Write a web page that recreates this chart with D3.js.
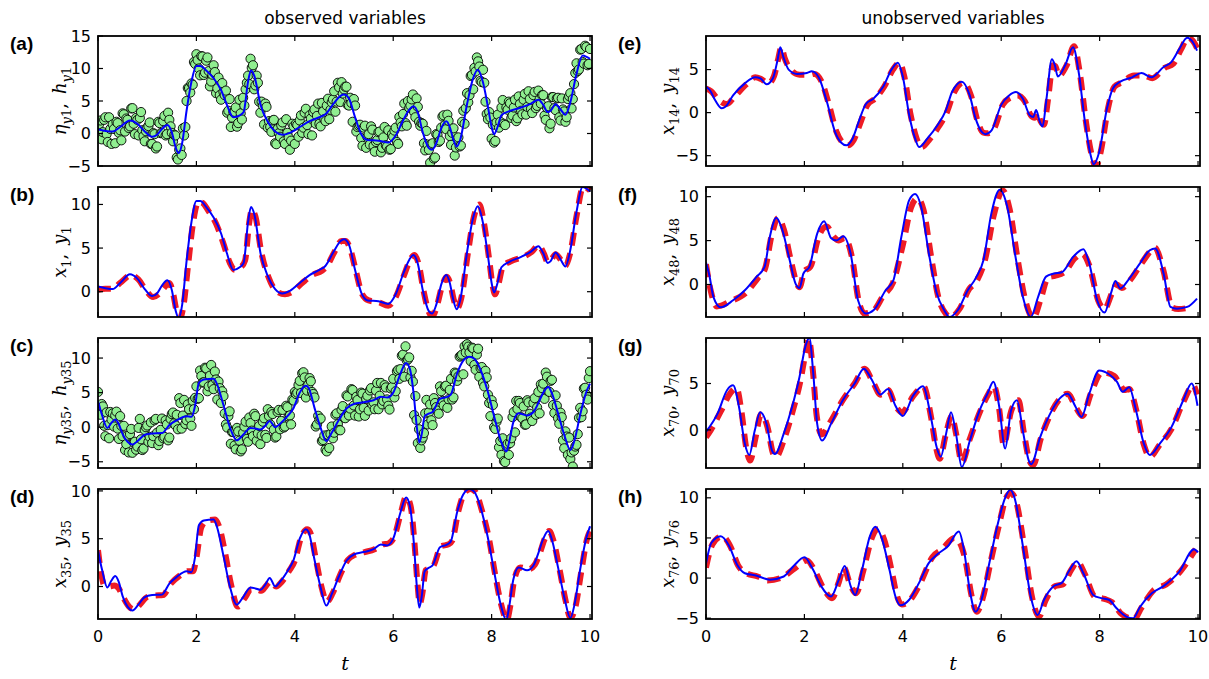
<!DOCTYPE html>
<html>
<head>
<meta charset="utf-8">
<script src="https://cdn.jsdelivr.net/npm/d3@7/dist/d3.min.js"></script>
<style>
  body { margin: 0; background: #fff; }
  svg text { font-family: "DejaVu Sans", sans-serif; fill: #000; }
</style>
</head>
<body>
<svg id="chart" width="1209" height="679"></svg>
<script>
// ---- data: [t, value] key points ----
// y1 (blue, panels a and b)
const y1 = [[0,0.6],[0.15,0.4],[0.3,0.3],[0.45,1.0],[0.65,2.0],[0.8,1.5],[0.95,0.3],[1.1,-0.5],[1.2,-0.2],[1.3,0.7],[1.41,1.3],[1.5,0.2],[1.58,-2.2],[1.64,-3.0],[1.71,-1.5],[1.8,3.5],[1.9,8.0],[2.0,10.4],[2.08,10.4],[2.2,9.7],[2.35,8.5],[2.5,6.7],[2.62,4.4],[2.75,2.5],[2.88,2.8],[2.96,3.3],[3.05,8.0],[3.11,9.7],[3.18,8.8],[3.3,4.5],[3.45,1.8],[3.6,0.3],[3.75,-0.2],[3.9,0.1],[4.1,1.0],[4.3,1.9],[4.5,2.5],[4.62,2.95],[4.8,4.7],[4.93,5.8],[5.0,6.0],[5.1,5.4],[5.22,2.6],[5.35,-0.1],[5.48,-1.0],[5.7,-1.1],[5.9,-1.4],[6.05,-0.3],[6.2,2.0],[6.33,3.7],[6.41,4.2],[6.5,3.2],[6.6,0.2],[6.72,-2.2],[6.79,-2.5],[6.88,-1.4],[6.98,0.9],[7.08,1.9],[7.15,1.0],[7.22,-0.9],[7.29,-2.0],[7.36,-1.0],[7.5,4.5],[7.62,8.4],[7.72,9.8],[7.82,8.0],[7.93,3.9],[8.0,1.0],[8.05,-0.1],[8.12,1.0],[8.2,2.8],[8.35,3.4],[8.6,4.0],[8.8,4.6],[8.95,5.2],[9.05,4.4],[9.14,3.3],[9.2,3.5],[9.3,4.5],[9.4,3.7],[9.5,2.9],[9.6,4.8],[9.72,9.0],[9.85,12.0],[9.93,11.8],[10.0,11.5]];
// x1 (red dashed, panel b)
const x1 = [[0,0.2],[0.15,0.35],[0.3,0.35],[0.45,1.0],[0.67,1.9],[0.82,1.4],[0.97,0.2],[1.12,-0.6],[1.25,-0.2],[1.35,0.5],[1.45,1.0],[1.53,-0.3],[1.6,-2.3],[1.66,-3.1],[1.74,-1.5],[1.83,3.0],[1.93,7.8],[2.04,10.3],[2.12,10.2],[2.25,9.2],[2.4,7.8],[2.55,5.5],[2.68,3.3],[2.78,2.5],[2.9,2.8],[2.99,3.6],[3.07,7.8],[3.13,9.4],[3.2,8.6],[3.32,4.5],[3.47,1.6],[3.62,0.1],[3.8,-0.3],[3.95,0.0],[4.15,1.0],[4.35,1.9],[4.55,2.4],[4.65,2.9],[4.8,4.5],[4.95,5.8],[5.03,5.8],[5.12,5.0],[5.24,2.4],[5.37,-0.3],[5.5,-1.0],[5.7,-1.2],[5.9,-1.6],[6.06,-0.5],[6.22,1.9],[6.35,3.7],[6.43,4.2],[6.52,3.1],[6.62,0.0],[6.73,-2.4],[6.8,-2.8],[6.89,-1.6],[6.99,0.6],[7.09,1.7],[7.16,0.9],[7.23,-0.9],[7.3,-1.9],[7.38,-0.8],[7.52,4.5],[7.64,8.6],[7.75,10.0],[7.84,8.0],[7.95,3.7],[8.02,0.7],[8.07,-0.3],[8.14,0.9],[8.23,2.9],[8.4,3.5],[8.65,4.0],[8.82,4.6],[8.95,5.3],[9.06,4.4],[9.14,3.4],[9.2,3.6],[9.3,4.3],[9.4,3.7],[9.5,3.0],[9.6,4.5],[9.73,8.8],[9.86,12.0],[9.93,11.9],[10.0,11.6]];
// y35 (blue, panels c and d)
const y35 = [[0,3.8],[0.08,1.8],[0.19,-0.1],[0.27,0.6],[0.35,1.1],[0.42,0.5],[0.5,-1.0],[0.6,-2.1],[0.7,-2.5],[0.82,-1.9],[0.95,-1.1],[1.1,-0.9],[1.3,-0.85],[1.45,0.3],[1.6,1.0],[1.8,1.6],[1.9,1.5],[1.97,3.0],[2.05,6.4],[2.15,6.9],[2.35,7.0],[2.42,6.2],[2.55,3.2],[2.68,0.0],[2.82,-1.9],[2.95,-1.1],[3.1,-0.1],[3.2,-0.2],[3.3,-0.35],[3.4,0.2],[3.49,0.9],[3.6,0.0],[3.7,0.5],[3.85,1.6],[3.97,2.7],[4.1,5.0],[4.22,6.0],[4.28,5.7],[4.4,2.8],[4.52,0.0],[4.64,-2.0],[4.75,-0.8],[4.9,1.1],[5.05,2.7],[5.2,3.35],[5.4,3.6],[5.6,3.9],[5.75,4.4],[5.88,4.3],[6.0,5.0],[6.15,7.8],[6.26,9.3],[6.34,8.4],[6.42,4.5],[6.48,0.0],[6.53,-2.2],[6.58,-1.0],[6.64,1.6],[6.72,1.95],[6.8,2.2],[6.95,4.1],[7.1,4.4],[7.17,4.7],[7.3,7.8],[7.42,9.6],[7.55,10.2],[7.65,9.9],[7.78,8.2],[7.92,5.2],[8.05,1.6],[8.18,-1.8],[8.3,-3.5],[8.36,-2.0],[8.44,0.7],[8.55,2.0],[8.72,1.7],[8.85,2.2],[8.95,3.5],[9.05,5.0],[9.15,5.8],[9.22,5.0],[9.35,2.0],[9.48,-1.2],[9.6,-3.3],[9.68,-2.0],[9.8,1.8],[9.92,5.0],[10.0,6.3]];
// x35 (red dashed, panel d)
const x35 = [[0,3.8],[0.06,1.5],[0.12,0.2],[0.22,0.0],[0.33,0.1],[0.42,-0.2],[0.52,-1.2],[0.63,-2.1],[0.74,-2.4],[0.85,-1.9],[1.0,-1.1],[1.15,-0.95],[1.32,-0.9],[1.48,0.3],[1.65,1.1],[1.83,1.6],[1.93,1.6],[2.0,3.0],[2.1,6.2],[2.22,6.9],[2.38,7.0],[2.46,6.3],[2.58,3.6],[2.7,0.3],[2.84,-2.1],[2.97,-1.3],[3.12,-0.3],[3.22,-0.3],[3.32,-0.45],[3.42,0.1],[3.5,0.5],[3.62,0.0],[3.72,0.4],[3.88,1.6],[4.0,2.7],[4.12,5.0],[4.25,6.0],[4.31,5.7],[4.43,2.8],[4.55,-0.2],[4.65,-1.6],[4.77,-0.7],[4.92,1.2],[5.08,2.8],[5.22,3.3],[5.42,3.6],[5.62,3.9],[5.78,4.4],[5.9,4.5],[6.02,5.2],[6.16,7.8],[6.26,9.4],[6.35,8.5],[6.43,4.7],[6.49,0.5],[6.54,-1.8],[6.59,-0.8],[6.66,1.7],[6.74,1.9],[6.82,2.2],[6.97,4.2],[7.12,4.4],[7.2,4.8],[7.32,7.8],[7.45,9.8],[7.57,10.2],[7.67,9.9],[7.8,8.0],[7.95,4.9],[8.07,1.3],[8.2,-2.0],[8.31,-3.5],[8.38,-2.0],[8.46,0.7],[8.58,2.0],[8.75,1.8],[8.88,2.3],[8.98,3.5],[9.08,5.0],[9.17,5.8],[9.25,4.9],[9.38,1.8],[9.5,-1.4],[9.6,-3.3],[9.7,-2.2],[9.82,1.5],[9.94,5.0],[10.0,5.8]];
// x14, y14 (panel e)
const y14 = [[0,3.0],[0.08,2.6],[0.19,1.4],[0.32,0.5],[0.4,0.7],[0.55,2.0],[0.79,3.4],[1.0,4.1],[1.1,4.0],[1.23,3.3],[1.36,4.0],[1.45,6.0],[1.51,7.6],[1.57,6.5],[1.68,5.0],[1.85,4.5],[2.05,4.6],[2.15,4.8],[2.3,4.0],[2.46,1.2],[2.62,-2.2],[2.75,-3.5],[2.85,-3.8],[2.98,-3.0],[3.1,-1.1],[3.25,1.0],[3.4,1.6],[3.6,3.0],[3.77,5.0],[3.9,5.8],[4.0,4.2],[4.13,-0.3],[4.25,-3.0],[4.33,-4.0],[4.5,-3.0],[4.7,-1.5],[4.87,0.2],[5.0,2.4],[5.2,3.6],[5.36,2.0],[5.48,-0.7],[5.6,-2.2],[5.68,-2.5],[5.8,-2.1],[6.0,0.9],[6.16,2.0],[6.3,2.4],[6.44,1.6],[6.58,-0.3],[6.65,-0.5],[6.71,0.3],[6.78,-1.0],[6.84,-1.6],[6.92,1.6],[7.03,6.2],[7.09,5.5],[7.15,4.2],[7.3,5.5],[7.46,7.6],[7.58,4.5],[7.7,-1.0],[7.82,-5.0],[7.88,-6.0],[7.99,-4.6],[8.15,0.5],[8.27,2.8],[8.42,3.6],[8.66,4.1],[8.85,4.6],[9.05,4.1],[9.3,5.3],[9.46,5.9],[9.62,7.4],[9.78,8.7],[9.88,8.3],[9.98,7.2]];
const x14 = [[0,2.8],[0.1,2.5],[0.25,1.5],[0.42,1.0],[0.6,2.0],[0.82,3.3],[1.0,4.1],[1.12,3.9],[1.27,3.4],[1.38,4.2],[1.47,6.3],[1.53,7.6],[1.6,6.3],[1.72,5.0],[1.9,4.4],[2.1,4.4],[2.2,4.5],[2.35,3.6],[2.5,0.9],[2.65,-2.2],[2.78,-3.5],[2.88,-3.8],[3.0,-3.2],[3.13,-1.3],[3.28,0.9],[3.43,1.6],[3.62,3.0],[3.8,5.0],[3.93,5.8],[4.03,4.2],[4.16,-0.3],[4.28,-3.0],[4.38,-4.0],[4.53,-3.2],[4.72,-1.7],[4.9,0.1],[5.03,2.2],[5.23,3.5],[5.39,1.9],[5.51,-0.8],[5.63,-2.3],[5.72,-2.4],[5.85,-1.9],[6.03,0.9],[6.2,1.8],[6.33,2.0],[6.48,1.3],[6.6,-0.3],[6.68,-0.6],[6.74,0.0],[6.8,-1.0],[6.87,-1.4],[6.95,1.5],[7.05,5.5],[7.1,5.4],[7.17,4.3],[7.33,5.5],[7.48,7.7],[7.6,4.5],[7.72,-1.0],[7.85,-5.2],[7.92,-6.3],[8.02,-4.6],[8.17,0.5],[8.3,3.0],[8.45,3.5],[8.7,4.3],[8.9,4.3],[9.07,4.0],[9.32,5.2],[9.5,5.7],[9.65,7.3],[9.8,8.7],[9.9,8.3],[9.98,7.5]];
// x48, y48 (panel f)
const y48 = [[0,2.5],[0.07,1.0],[0.15,-1.4],[0.3,-2.6],[0.55,-1.8],[0.79,-0.65],[1.03,0.9],[1.19,2.0],[1.3,5.5],[1.43,7.6],[1.54,6.4],[1.7,2.8],[1.82,0.1],[1.9,-0.4],[1.98,1.25],[2.1,2.0],[2.26,5.8],[2.4,7.2],[2.54,5.3],[2.65,5.0],[2.79,5.5],[2.94,3.5],[3.09,-1.8],[3.25,-3.3],[3.41,-2.9],[3.65,-0.65],[3.81,0.5],[3.97,5.4],[4.13,9.6],[4.25,10.3],[4.37,8.9],[4.53,3.5],[4.69,-1.0],[4.84,-2.9],[4.95,-3.7],[5.12,-2.9],[5.32,-0.65],[5.48,0.7],[5.64,2.8],[5.8,8.1],[5.97,10.8],[6.12,8.9],[6.28,3.5],[6.44,-1.4],[6.6,-3.7],[6.75,-1.4],[6.91,0.9],[7.07,1.25],[7.23,1.4],[7.47,3.2],[7.67,4.0],[7.79,2.4],[7.95,-1.8],[8.1,-3.2],[8.23,-1.0],[8.32,0.4],[8.42,-0.45],[8.58,0.5],[8.82,2.4],[9.02,3.9],[9.13,4.1],[9.3,1.25],[9.44,-2.55],[9.57,-2.75],[9.78,-2.55],[9.98,-1.6]];
const x48 = [[0,2.3],[0.1,-0.8],[0.22,-2.5],[0.5,-1.9],[0.8,-1.0],[1.05,0.7],[1.2,1.8],[1.33,5.5],[1.47,7.6],[1.58,6.3],[1.73,2.6],[1.84,0.2],[1.9,-0.3],[2.0,1.5],[2.12,2.0],[2.3,5.6],[2.45,6.6],[2.6,5.4],[2.7,5.0],[2.82,5.3],[2.97,3.0],[3.1,-1.8],[3.22,-3.3],[3.4,-3.0],[3.6,-1.3],[3.8,0.2],[4.0,4.5],[4.17,8.8],[4.3,9.8],[4.42,8.5],[4.58,3.0],[4.72,-1.4],[4.87,-3.3],[4.97,-3.7],[5.15,-2.8],[5.35,-0.5],[5.5,0.4],[5.67,2.8],[5.85,7.9],[6.03,10.7],[6.17,8.6],[6.33,3.0],[6.49,-1.8],[6.65,-3.8],[6.8,-1.7],[6.95,0.8],[7.1,1.0],[7.3,1.5],[7.5,3.0],[7.65,3.5],[7.8,2.0],[7.97,-1.8],[8.1,-2.8],[8.25,-1.0],[8.35,0.0],[8.45,-0.4],[8.62,0.5],[8.85,2.4],[9.05,3.9],[9.12,4.2],[9.3,1.5],[9.47,-2.6],[9.6,-2.8],[9.85,-2.6]];
// x70, y70 (panel g)
const y70 = [[0,-0.2],[0.23,1.7],[0.43,4.3],[0.55,4.8],[0.67,2.5],[0.79,-1.5],[0.88,-2.7],[0.99,-0.1],[1.1,1.9],[1.23,0.65],[1.34,-2.2],[1.4,-2.6],[1.58,-0.4],[1.74,2.3],[1.9,5.7],[2.02,9.0],[2.1,9.9],[2.18,6.1],[2.26,0.65],[2.36,-1.15],[2.54,0.65],[2.78,3.2],[3.02,5.0],[3.21,6.6],[3.37,5.4],[3.54,3.8],[3.7,4.4],[3.85,2.6],[4.0,1.5],[4.21,3.7],[4.41,4.7],[4.57,1.4],[4.69,-1.9],[4.77,-2.9],[4.88,-0.4],[4.98,1.9],[5.08,-0.4],[5.2,-4.0],[5.36,-1.2],[5.56,2.1],[5.72,3.9],[5.84,5.2],[5.96,2.5],[6.08,-2.0],[6.2,2.1],[6.32,3.2],[6.44,-0.1],[6.56,-3.3],[6.61,-3.7],[6.79,-0.8],[6.99,1.7],[7.19,3.4],[7.35,3.9],[7.51,2.5],[7.63,1.4],[7.79,3.9],[7.99,6.4],[8.19,6.0],[8.35,5.2],[8.47,4.1],[8.6,4.6],[8.74,2.1],[8.9,-1.5],[9.02,-2.7],[9.22,-1.5],[9.46,0.3],[9.7,3.2],[9.87,5.0],[9.99,2.6]];
const x70 = [[0,-0.8],[0.1,0.0],[0.3,2.0],[0.5,4.0],[0.62,4.5],[0.72,2.0],[0.82,-2.0],[0.9,-3.3],[1.0,-1.0],[1.12,1.7],[1.25,0.3],[1.36,-2.5],[1.42,-2.9],[1.6,-0.8],[1.76,2.0],[1.92,5.3],[2.03,8.5],[2.09,9.8],[2.17,6.5],[2.25,1.5],[2.35,-0.5],[2.52,0.8],[2.78,3.2],[3.02,5.0],[3.22,6.6],[3.38,5.3],[3.55,3.8],[3.7,4.3],[3.85,2.6],[3.98,1.9],[4.22,3.7],[4.42,4.7],[4.58,1.2],[4.68,-2.0],[4.75,-3.1],[4.87,-0.6],[4.99,1.5],[5.09,-0.6],[5.2,-3.5],[5.36,-1.0],[5.58,2.1],[5.73,3.8],[5.85,4.7],[5.96,2.2],[6.05,-1.6],[6.2,2.0],[6.35,3.2],[6.46,-0.3],[6.58,-3.4],[6.65,-3.8],[6.8,-1.0],[7.0,1.7],[7.2,3.4],[7.35,3.9],[7.52,2.4],[7.65,1.5],[7.82,3.9],[8.05,6.2],[8.3,5.8],[8.4,5.0],[8.5,4.3],[8.6,4.4],[8.75,2.0],[8.9,-1.6],[9.02,-2.9],[9.22,-1.6],[9.46,0.1],[9.7,3.0],[9.9,4.8],[9.98,3.8]];
// x76, y76 (panel h)
const y76 = [[0,1.8],[0.11,4.4],[0.3,5.2],[0.47,4.0],[0.63,1.7],[0.79,0.6],[1.03,0.3],[1.3,-0.2],[1.58,0.2],[1.78,1.5],[2.0,2.6],[2.18,1.0],[2.34,-1.0],[2.54,-2.3],[2.7,-0.2],[2.82,1.5],[2.94,-1.0],[3.03,-2.1],[3.17,1.0],[3.33,5.2],[3.44,6.4],[3.57,5.0],[3.73,1.0],[3.85,-2.3],[3.95,-3.4],[4.13,-2.7],[4.33,-0.6],[4.53,1.9],[4.69,2.9],[4.92,4.0],[5.14,5.8],[5.24,3.6],[5.36,-1.5],[5.48,-4.2],[5.6,-2.7],[5.76,1.9],[5.92,6.5],[6.08,10.0],[6.18,11.0],[6.28,9.8],[6.44,4.0],[6.6,-2.3],[6.74,-4.6],[6.87,-2.7],[7.07,-1.0],[7.23,-0.6],[7.39,1.0],[7.53,2.1],[7.67,0.6],[7.87,-2.1],[8.03,-2.5],[8.19,-2.7],[8.35,-3.8],[8.54,-4.8],[8.68,-5.0],[8.82,-3.6],[9.06,-1.9],[9.3,-1.0],[9.62,0.8],[9.92,3.6],[10.0,3.2]];
const x76 = [[0,1.3],[0.13,4.2],[0.33,5.2],[0.5,3.9],[0.65,1.6],[0.82,0.6],[1.05,0.2],[1.25,-0.3],[1.55,0.1],[1.8,1.2],[2.05,2.2],[2.22,0.8],[2.38,-1.2],[2.56,-2.5],[2.7,-0.5],[2.8,1.3],[2.93,-0.8],[3.05,-1.9],[3.2,1.0],[3.37,5.0],[3.5,6.1],[3.62,4.8],[3.77,1.0],[3.88,-2.2],[3.98,-3.3],[4.15,-2.7],[4.35,-0.7],[4.6,2.6],[4.8,3.6],[5.05,5.0],[5.15,4.5],[5.28,2.0],[5.39,-2.0],[5.5,-4.2],[5.62,-2.6],[5.78,1.9],[5.95,6.5],[6.1,10.0],[6.2,10.6],[6.3,9.6],[6.47,3.8],[6.63,-2.5],[6.77,-4.8],[6.9,-2.8],[7.1,-1.0],[7.25,-0.8],[7.42,1.0],[7.55,2.0],[7.7,0.5],[7.9,-2.3],[8.1,-2.6],[8.25,-3.0],[8.45,-4.5],[8.7,-5.1],[8.85,-3.7],[9.1,-1.5],[9.35,-0.8],[9.65,0.9],[9.95,3.6]];

// noisy observations (green dots): first set at t = 0, 0.05, ... ; second set shifted by half a step
const obsStep = 0.05;
const etaY1 = [-0.4,2.0,0.2,2.5,-1.3,0.7,1.4,-1.5,1.6,0.5,3.1,0.3,2.1,1.1,3.9,-0.1,2.1,2.4,0.5,-1.2,0.9,1.7,-1.6,-0.1,-2.0,1.6,0.1,2.7,-0.1,2.1,0.1,-0.2,-3.7,-2.5,-3.3,-0.3,5.0,7.0,7.7,11.0,12.2,10.0,11.9,9.0,11.2,9.6,8.0,10.5,6.2,8.6,5.2,6.4,6.6,3.5,1.0,3.3,4.0,1.6,3.1,5.5,6.8,8.9,11.5,10.5,7.4,7.8,3.2,4.3,4.6,0.9,1.0,2.0,-1.5,0.7,-0.5,1.7,-1.6,0.1,-2.5,1.5,-1.6,1.3,2.0,0.1,3.2,1.3,2.8,-0.3,3.7,2.7,1.5,4.7,2.2,4.3,2.2,4.8,6.5,4.9,7.1,7.9,6.8,7.2,4.3,4.7,5.3,0.3,1.2,-0.7,0.9,-2.2,-0.1,1.1,-1.9,-1.3,0.2,-2.9,-0.6,-1.8,0.5,-2.4,-0.5,0.9,-1.6,1.7,3.0,1.6,5.0,4.3,6.0,2.5,4.1,1.2,1.5,-2.6,-1.7,-4.5,-1.5,-3.7,-0.2,-1.1,2.6,1.3,2.9,-0.4,0.1,-3.4,-0.8,-2.0,1.8,1.5,6.2,5.9,9.0,10.1,11.7,10.3,7.9,7.8,3.0,3.3,-0.8,-1.4,1.7,0.9,4.0,1.5,4.0,4.9,2.4,4.0,1.9,5.7,3.5,5.2,2.9,6.5,3.8,5.9,3.9,6.6,4.6,5.9,2.1,4.2,1.5,5.6,3.6,5.5,2.0,3.7,1.8,5.3,6.2,5.3,9.3,9.6,12.9,11.0,13.5,10.5,13.0];
const etaY1b = [1.45,-0.9,2.1,-0.1,2.5,-1.6,0.7,1.8,0.1,-1.05,2.95,2.3,0.85,3.85,1.5,2.4,-0.3,3.3,-0.4,0.35,1.15,-1.6,0.05,-2.3,1.8,0.05,1.9,-0.3,3.2,1.1,-1.2,-0.3,-4.0,-2.3,0.8,1.0,7.0,6.3,7.5,10.7,11.3,8.95,11.85,9.35,11.7,7.25,9.05,9.45,6.95,5.9,7.75,5.9,3.2,5.3,2.45,3.35,1.05,5.2,2.15,4.3,7.8,7.6,10.1,6.8,8.9,4.9,4.9,1.4,4.1,1.9,0.25,2.1,-1.65,0.05,1.25,-1.2,2.2,-0.6,-1.1,1.1,1.5,-0.5,2.8,0.9,3.8,-0.1,2.3,3.3,1.5,4.6,1.1,3.4,1.9,5.35,3.65,5.25,3.35,7.8,4.85,6.15,7.2,4.4,5.5,1.8,4.3,1.0,1.35,-1.9,1.2,-0.55,-1.7,0.6,-2.8,-1.0,0.3,-2.2,1.0,-2.0,-2.5,-0.1,0.45,-1.3,2.55,1.1,4.6,1.2,3.95,5.25,3.3,5.4,1.8,1.6,-1.5,0.4,-2.5,-1.65,-3.85,-0.1,-1.3,0.9,2.8,0.65,1.95,-1.75,0.8,-2.15,-0.6,-1.85,3.5,3.9,4.8,8.85,6.8,9.55,11.1,8.1,9.8,4.9,2.2,2.45,1.35,-1.15,2.9,1.8,5.15,1.3,3.65,4.65,2.75,5.2,2.35,4.55,2.95,6.1,4.1,5.3,3.15,6.4,4.25,5.25,5.9,2.75,3.95,0.8,5.6,3.9,5.4,2.5,5.4,3.4,2.5,5.75,3.85,7.6,10.8,9.85,13.0,10.75,13.3,10.7];
const etaY35 = [5.1,1.8,3.0,-1.3,0.3,2.2,2.0,1.7,-0.2,1.6,-1.3,-3.3,-1.2,-1.0,-3.7,-2.1,-2.8,1.2,-3.3,-0.4,0.25,-1.4,-2.3,1.0,-0.8,-2.0,1.25,-1.4,0.4,-1.5,1.9,0.55,1.8,4.2,-0.2,3.95,1.0,2.6,0.2,2.6,5.9,4.2,7.4,6.5,8.5,5.9,9.0,5.5,6.9,6.6,3.5,4.5,0.4,1.6,-2.4,-0.7,-3.2,-0.6,-3.5,-0.8,0.8,-2.1,0.6,-1.3,1.6,-0.9,-2.45,0.8,-1.1,2.6,0.4,1.9,-1.5,2.2,-0.3,2.5,0.1,2.9,1.7,4.0,5.1,5.0,6.7,7.8,7.2,5.3,7.1,5.1,4.3,0.4,1.1,-2.0,-1.2,-3.5,-3.0,0.1,-0.8,2.0,-0.4,2.5,1.4,4.6,1.7,5.5,3.15,4.4,1.55,5.0,2.8,4.1,2.4,5.65,3.6,5.3,2.6,6.4,3.8,5.75,3.1,5.6,7.0,5.2,8.3,8.4,10.5,11.7,9.8,7.2,6.6,4.5,-2.3,-3.0,-1.5,2.0,0.4,3.3,0.3,3.5,2.4,5.9,3.8,5.9,2.8,5.4,4.0,7.9,6.7,10.2,10.5,11.7,12.0,10.8,11.5,9.0,10.5,7.3,8.7,5.9,7.2,3.5,3.9,0.0,0.8,-2.9,-4.0,-4.9,-2.7,-4.0,-1.6,2.2,3.8,3.8,1.45,3.0,0.4,3.6,1.4,3.5,1.8,5.1,6.2,6.3,7.9,5.2,6.7,3.2,4.6,1.3,2.1,-1.9,-0.6,-4.0,-4.6,-5.7,-2.8,-1.0,2.8,2.3,5.7,4.0,8.1];
const etaY35b = [1.95,3.35,0.2,2.15,-1.6,1.1,0.1,2.25,-1.7,0.2,0.2,-2.45,-3.65,-0.25,-2.2,-3.25,-0.1,-1.75,-3.1,0.0,-2.12,0.7,-1.3,1.2,-2.6,-0.38,-1.6,1.0,-1.9,1.2,2.12,0.27,-0.3,3.5,1.68,0.48,3.3,1.25,3.8,4.25,4.1,8.2,6.45,8.6,5.2,7.45,6.1,8.05,4.0,5.65,5.2,2.0,-0.05,2.3,-0.7,-2.65,-0.1,-1.95,-3.2,0.1,-1.7,1.4,-0.5,1.95,-1.95,0.18,-1.18,1.3,-1.55,1.6,2.2,-0.35,-1.35,2.5,0.9,-0.05,3.1,1.55,0.4,3.85,4.8,6.1,4.95,7.95,4.3,6.15,6.65,4.8,0.1,1.65,1.25,-1.85,-3.25,-1.1,-1.0,-1.6,1.8,0.45,-0.45,3.05,1.3,4.45,2.7,5.38,1.68,3.93,2.58,4.85,1.65,4.55,5.32,3.28,2.6,6.4,4.55,3.3,6.08,4.02,2.55,5.8,4.3,8.1,7.0,10.35,7.3,9.65,10.1,8.15,1.75,1.05,-0.3,-1.9,-0.85,3.95,2.15,1.0,4.2,2.9,1.95,5.2,3.15,6.0,4.05,7.0,4.3,7.75,7.35,10.35,7.65,10.8,11.65,9.55,11.4,8.3,11.35,8.55,6.4,8.15,4.7,1.6,3.2,-0.25,1.25,-2.0,-1.6,-5.05,-2.4,-2.3,1.45,-0.75,2.65,3.5,1.28,0.35,3.9,1.95,0.9,4.2,2.85,2.0,5.65,4.1,7.3,5.1,6.85,2.05,3.1,0.5,1.45,-3.05,-1.35,-1.5,-3.65,-3.4,-2.55,1.35,1.45,5.6,4.7,7.1];

const xTicks = [0, 2, 4, 6, 8, 10];

// ---- layout ----
const colX = [[98, 592], [706, 1200]];
const rowTop = [36, 187, 338, 489];
const panelH = 130;

const panels = [
  {tag: "(a)", col: 0, row: 0, ydom: [-5, 15],    blue: y1,  obs: [etaY1, etaY1b],   lab: [["η", "y1"], ["h", "y1"]]},
  {tag: "(b)", col: 0, row: 1, ydom: [-2.9, 12.0], blue: y1,  red: x1,    lab: [["x", "1"], ["y", "1"]]},
  {tag: "(c)", col: 0, row: 2, ydom: [-5.9, 12.9], blue: y35, obs: [etaY35, etaY35b], lab: [["η", "y35"], ["h", "y35"]]},
  {tag: "(d)", col: 0, row: 3, ydom: [-3.4, 10.2], blue: y35, red: x35,   lab: [["x", "35"], ["y", "35"]]},
  {tag: "(e)", col: 1, row: 0, ydom: [-6.2, 8.9],  blue: y14, red: x14,   lab: [["x", "14"], ["y", "14"]]},
  {tag: "(f)", col: 1, row: 1, ydom: [-3.7, 11.1], blue: y48, red: x48,   lab: [["x", "48"], ["y", "48"]]},
  {tag: "(g)", col: 1, row: 2, ydom: [-4.1, 9.9],  blue: y70, red: x70,   lab: [["x", "70"], ["y", "70"]]},
  {tag: "(h)", col: 1, row: 3, ydom: [-5.1, 11.1], blue: y76, red: x76,   lab: [["x", "76"], ["y", "76"]]}
];

const svg = d3.select("#chart");
const fmt = v => (v < 0 ? "\u2212" + Math.abs(v) : String(v));

// column titles
svg.append("text").attr("x", (colX[0][0] + colX[0][1]) / 2).attr("y", 24)
  .attr("text-anchor", "middle").style("font-size", "17px").text("observed variables");
svg.append("text").attr("x", (colX[1][0] + colX[1][1]) / 2).attr("y", 24)
  .attr("text-anchor", "middle").style("font-size", "17px").text("unobserved variables");

panels.forEach((p, i) => {
  const [x0, x1p] = colX[p.col];
  const top = rowTop[p.row];
  const bot = top + panelH;

  const x = d3.scaleLinear().domain([0, 10.04]).range([x0, x1p]);
  const y = d3.scaleLinear().domain(p.ydom).range([bot, top]);

  const clipId = "clip" + i;
  svg.append("clipPath").attr("id", clipId)
    .append("rect").attr("x", x0).attr("y", top).attr("width", x1p - x0).attr("height", panelH);

  const g = svg.append("g").attr("clip-path", `url(#${clipId})`);
  const line = d3.line().x(d => x(d[0])).y(d => y(d[1])).curve(d3.curveMonotoneX);

  // observations as green circles (two interleaved sets)
  if (p.obs) {
    const pts = [];
    p.obs.forEach((arr, s) => arr.forEach((v, k) => pts.push({t: k * obsStep + s * obsStep / 2, v})));
    pts.sort((a, b) => a.t - b.t);
    g.selectAll("circle").data(pts).enter().append("circle")
      .attr("cx", d => x(d.t))
      .attr("cy", d => y(d.v))
      .attr("r", 4.6)
      .attr("fill", "#90ee90")
      .attr("stroke", "#000")
      .attr("stroke-width", 0.9);
  }
  // true state, red dashed
  if (p.red) {
    g.append("path").datum(p.red).attr("d", line)
      .attr("fill", "none").attr("stroke", "#ee1c25")
      .attr("stroke-width", 6).attr("stroke-dasharray", "13,8");
  }
  // estimate, blue
  g.append("path").datum(p.blue).attr("d", line)
    .attr("fill", "none").attr("stroke", "#0000ff").attr("stroke-width", 2);

  // ticks (inside, all four sides)
  const yTicks = d3.range(Math.ceil(p.ydom[0] / 5) * 5, p.ydom[1] + 0.001, 5);
  const tk = svg.append("g").attr("stroke", "#000").attr("stroke-width", 1.2);
  xTicks.forEach(t => {
    tk.append("line").attr("x1", x(t)).attr("x2", x(t)).attr("y1", bot).attr("y2", bot - 5);
    tk.append("line").attr("x1", x(t)).attr("x2", x(t)).attr("y1", top).attr("y2", top + 5);
  });
  yTicks.forEach(v => {
    tk.append("line").attr("x1", x0).attr("x2", x0 + 5).attr("y1", y(v)).attr("y2", y(v));
    tk.append("line").attr("x1", x1p).attr("x2", x1p - 5).attr("y1", y(v)).attr("y2", y(v));
    svg.append("text").attr("x", x0 - 7).attr("y", y(v)).attr("dy", "0.35em")
      .attr("text-anchor", "end").style("font-size", "16px").text(fmt(v));
  });

  // frame
  svg.append("rect").attr("x", x0).attr("y", top).attr("width", x1p - x0).attr("height", panelH)
    .attr("fill", "none").attr("stroke", "#000").attr("stroke-width", 1.8);

  // bottom row: x tick labels and t
  if (p.row === 3) {
    xTicks.forEach(t => {
      svg.append("text").attr("x", x(t)).attr("y", bot + 23)
        .attr("text-anchor", "middle").style("font-size", "16px").text(t);
    });
    svg.append("text").attr("x", (x0 + x1p) / 2).attr("y", bot + 51)
      .attr("text-anchor", "middle")
      .style("font-family", "'DejaVu Serif', serif").style("font-style", "italic")
      .style("font-size", "19px").text("t");
  }

  // panel tag
  svg.append("text").attr("x", x0 - 88).attr("y", top + 14)
    .style("font-family", "'Liberation Sans', Arial, sans-serif")
    .style("font-weight", "bold").style("font-size", "19px").text(p.tag);

  // y label, math style
  const cy = (top + bot) / 2;
  const lx = x0 - 32;
  const lab = svg.append("text")
    .attr("transform", `translate(${lx},${cy}) rotate(-90)`)
    .attr("text-anchor", "middle")
    .style("font-family", "'DejaVu Serif', serif").style("font-size", "18px");
  p.lab.forEach((part, k) => {
    if (k > 0) lab.append("tspan").attr("dy", -5).style("font-style", "normal").text(",\u2002");
    lab.append("tspan").style("font-style", "italic").text(part[0]);
    const sub = part[1];
    const s = lab.append("tspan").attr("dy", 5).style("font-size", "13px");
    if (sub[0] === "y") {
      s.append("tspan").style("font-style", "italic").text("y");
      s.append("tspan").style("font-style", "normal").text(sub.slice(1));
    } else {
      s.style("font-style", "normal").text(sub);
    }
  });
});
</script>
</body>
</html>
